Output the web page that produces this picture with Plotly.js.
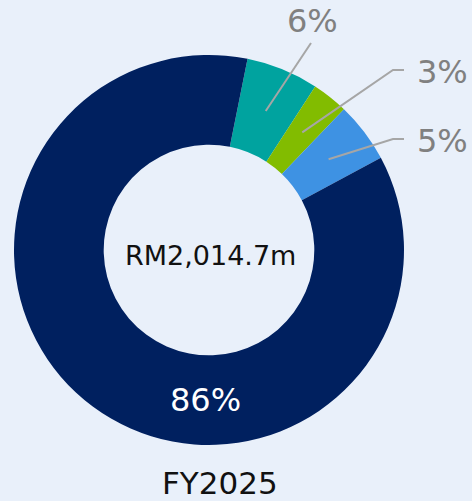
<!DOCTYPE html>
<html>
<head>
<meta charset="utf-8">
<script src="https://cdn.plot.ly/plotly-3.0.1.min.js"></script>
<style>
html,body{margin:0;padding:0;background:#E9F0FA;}
#chart{width:472px;height:501px;}
</style>
</head>
<body>
<div id="chart"></div>
<script>
// Data
const categories = ["Segment A", "Segment B", "Segment C", "Segment D"];
const values = [6, 3, 5, 86];
const labelsText = ["6%", "3%", "5%", "86%"];
const colors = ["#00A39F", "#82BC00", "#3E92E3", "#00205F"];
const centerText = "RM2,014.7m";
const yearLabel = "FY2025";

// Layout geometry (pixels)
const W = 472, H = 501;
const cx = 209, cy = 250, R = 195, holeFrac = 0.54;
const rotation = 11.4;
const font = "DejaVu Sans, Verdana, sans-serif";

const px = x => x / W;
const py = y => 1 - y / H;

const total = values.reduce((a, b) => a + b, 0);
const midAngles = [];
let cum = 0;
values.forEach(v => { midAngles.push(rotation + (cum + v / 2) / total * 360); cum += v; });
const midR = R * (1 + holeFrac) / 2;
const ringPt = i => {
  const a = midAngles[i] * Math.PI / 180;
  return [cx + midR * Math.sin(a), cy - midR * Math.cos(a)];
};

// label leader endpoints and text positions (pixels) for small slices
const leader = [
  {pts: [[311, 43]], text: [312, 21]},
  {pts: [[393, 70], [404, 70]], text: [442, 72]},
  {pts: [[393, 139], [404, 139]], text: [442, 141]}
];

const shapes = [];
const annotations = [];
leader.forEach((l, i) => {
  const s = ringPt(i);
  let path = `M ${px(s[0])} ${py(s[1])}`;
  l.pts.forEach(p => { path += ` L ${px(p[0])} ${py(p[1])}`; });
  shapes.push({type: "path", xref: "paper", yref: "paper", path: path,
    line: {color: "#A6A6A6", width: 2}});
  annotations.push({xref: "paper", yref: "paper", x: px(l.text[0]), y: py(l.text[1]),
    xanchor: "center", yanchor: "middle", showarrow: false, text: labelsText[i],
    font: {family: font, size: 32, color: "#808080"}});
});
annotations.push({xref: "paper", yref: "paper", x: px(205), y: py(400),
  xanchor: "center", yanchor: "middle", showarrow: false, text: labelsText[3],
  font: {family: font, size: 32, color: "#FFFFFF"}});
annotations.push({xref: "paper", yref: "paper", x: px(210), y: py(255),
  xanchor: "center", yanchor: "middle", showarrow: false, text: centerText,
  font: {family: font, size: 27, color: "#111111"}});
annotations.push({xref: "paper", yref: "paper", x: px(220), y: py(483),
  xanchor: "center", yanchor: "middle", showarrow: false, text: yearLabel,
  borderpad: 0,
  font: {family: font, size: 31, color: "#111111"}});

const trace = {
  type: "pie",
  labels: categories,
  values: values,
  hole: holeFrac,
  sort: false,
  direction: "clockwise",
  rotation: rotation,
  textinfo: "none",
  hoverinfo: "none",
  marker: {colors: colors, line: {width: 0}},
  domain: {x: [px(cx - R), px(cx + R)], y: [py(cy + R), py(cy - R)]},
  showlegend: false
};

const layout = {
  width: W, height: H,
  margin: {l: 0, r: 0, t: 0, b: 0},
  paper_bgcolor: "#E9F0FA",
  plot_bgcolor: "#E9F0FA",
  showlegend: false,
  shapes: shapes,
  annotations: annotations,
  font: {family: font}
};

Plotly.newPlot("chart", [trace], layout, {displayModeBar: false, staticPlot: true});
</script>
</body>
</html>
